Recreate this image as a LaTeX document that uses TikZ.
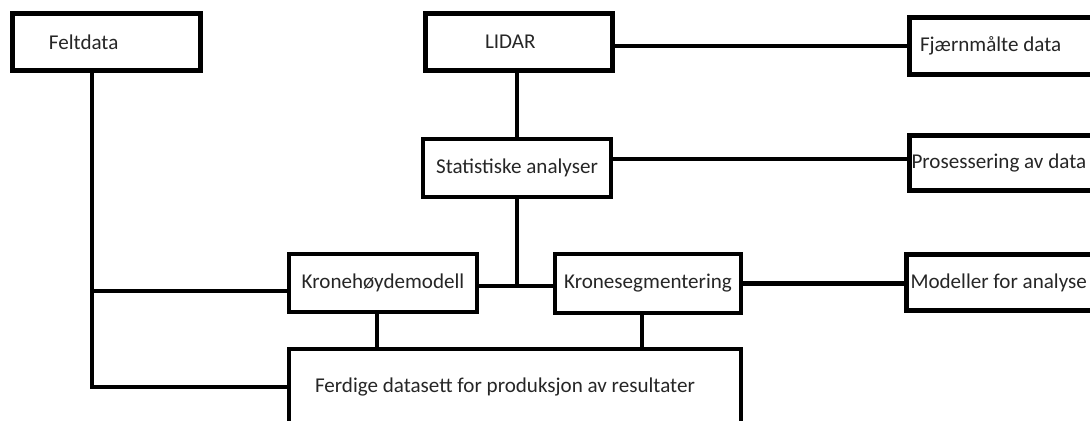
\documentclass[tikz,border=0pt]{standalone}
\usepackage{fontspec}
\setmainfont{Carlito}

\begin{document}
\begin{tikzpicture}[x=0.02cm, y=-0.02cm]
    \colorlet{border}{black}
\colorlet{ink}{black!85}

\newcommand\pix{0.02}

\useasboundingbox (0, 0) rectangle (1090, 421);

\begin{scope}
    \tikzset{
        box/.style={
            draw=border, line width=2.8pt, rectangle,
            inner sep=0pt,
            text=ink, font=\fontsize{12}{14}\selectfont,
        },
        left box/.style={
            box, align=flush left,
        },
    }

    \node[left box, minimum height={57 * \pix cm},
        text width={115 * \pix cm}, inner xsep={36.5 * \pix cm}]
        at (106.5, 42) (box-felt) {Feltdata};
    \node[left box, minimum height={57 * \pix cm},
        text width={68 * \pix cm}, inner xsep={59.5 * \pix cm}]
        at (519, 42) (box-lidar) {LIDAR};
    \node[left box, minimum height={57 * \pix cm},
        text width={269 * \pix cm}, inner xsep={10.5 * \pix cm}]
        at (1054.5, 46) (box-fj) {Fjærnmålte data};

    \node[box, minimum width={188 * \pix cm}, minimum height={58 * \pix cm}]
        at (517, 168) (box-stat) {Statistiske analyser};
    \node[left box, minimum height={55 * \pix cm},
        text width={285 * \pix cm}, inner xsep={2 * \pix cm}]
        at (1054, 163) (box-proc) {Prosessering av data};

    \node[box, minimum width={188 * \pix cm}, minimum height={58 * \pix cm}]
        at (383, 283) (box-kh) {Kronehøydemodell};
    \node[box, minimum width={186 * \pix cm}, minimum height={59 * \pix cm}]
        at (648, 283.5) (box-ks) {Kronesegmentering};
    \node[left box, minimum height={56 * \pix cm},
        text width={281 * \pix cm}, inner xsep={4 * \pix cm}]
        at (1051, 282.5) (box-mod) {Modeller for analyse};

    \node[left box, minimum height={76 * \pix cm},
        text width={400 * \pix cm}, inner xsep={26 * \pix cm}]
        at (515, 387) (box-ferdig) {Ferdige datasett for produksjon av resultater};
\end{scope}

    \tikzset{link/.style={border, line width=2.5pt}}

    \draw[link] ([xshift={-14.5 * \pix cm}]box-felt.south) coordinate (felt-trunk)
        -- (felt-trunk |- box-ferdig.west) -- (box-ferdig.west);
    \draw[link] ([yshift={-8 * \pix cm}]box-kh.west) coordinate (kh-in)
        -- (kh-in -| felt-trunk);

    \draw[link] (box-lidar.south -| box-stat.north) -- (box-stat.north);
    \draw[link] (box-fj.west -| box-lidar.east) -- (box-fj.west);
    \draw[link] ([yshift={9 * \pix cm}]box-stat.east) coordinate (stat-out)
        -- (stat-out -| box-proc.west);

    \draw[link] ([yshift={-3 * \pix cm}]box-kh.east) coordinate (kh-out)
        -- (kh-out -| box-ks.west);
    \draw[link] (box-stat.south) -- (box-stat.south |- kh-out);
    \draw[link] (box-ks.east) -- (box-ks.east -| box-mod.west);

    \draw[link] ([xshift={-6 * \pix cm}]box-kh.south) coordinate (kh-down)
        -- (kh-down |- box-ferdig.north);
    \draw[link] ([xshift={-6 * \pix cm}]box-ks.south) coordinate (ks-down)
        -- (ks-down |- box-ferdig.north);
\end{tikzpicture}
\end{document}
